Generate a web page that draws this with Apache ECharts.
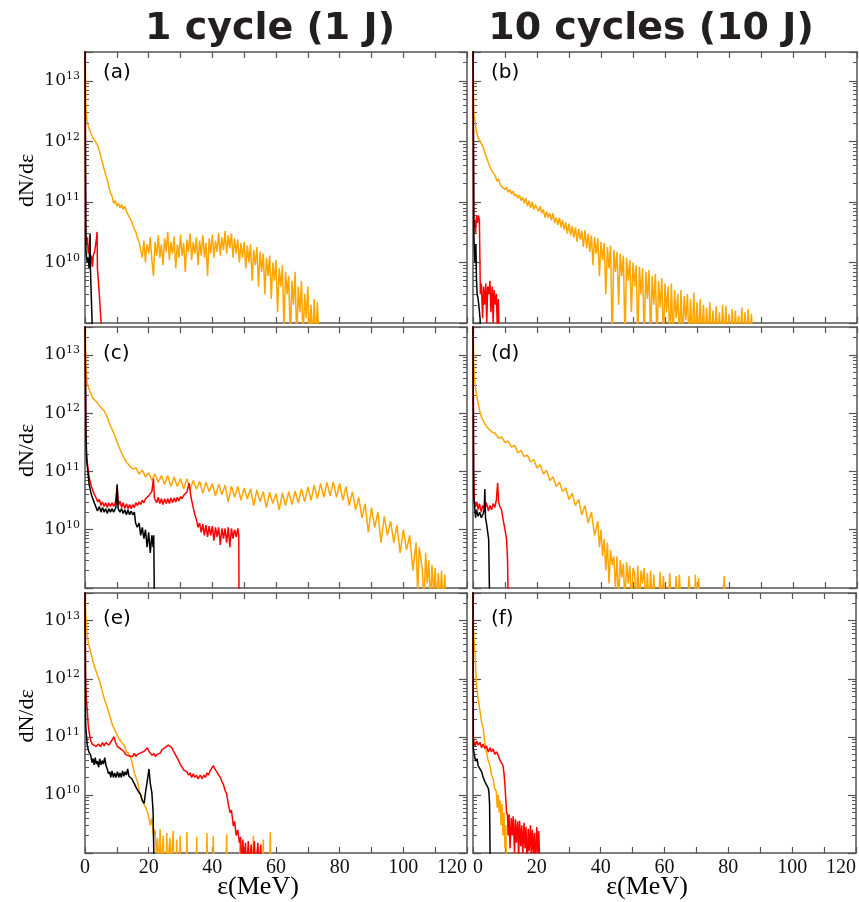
<!DOCTYPE html>
<html><head><meta charset="utf-8">
<script src="https://cdn.jsdelivr.net/npm/echarts@6/dist/echarts.min.js"></script>
<style>html,body{margin:0;padding:0;background:#fff}#c{width:859px;height:902px}</style>
</head><body><div id="c"></div>
<script>
// ---------- texts ----------
const columnTitles = ['1 cycle (1 J)', '10 cycles (10 J)'];
const panelLabels = ['(a)', '(b)', '(c)', '(d)', '(e)', '(f)'];
const yAxisName = 'dN/d\u03b5';
const xAxisName = '\u03b5(MeV)';
const xTickValues = [0, 20, 40, 60, 80, 100, 120];

// ---------- data: [energy MeV, dN/dE] ----------
const aOrange = [[0,5e13],[0.3,3.5e12],[0.6,2.2e12],[1,1.8e12],[1.5,1.5e12],[2,1.3e12],[2.5,1.15e12],[3,1.1e12],[3.5,9.5e11],[4,8.5e11],[4.5,7e11],[5,5.5e11],[5.5,4.4e11],[6,3.5e11],[6.5,2.8e11],[7,2.3e11],[7.5,1.8e11],[8,1.4e11],[8.5,1.25e11],[9,9.5e10],[9.5,1.05e11],[10,8.5e10],[10.5,9.5e10],[11,8e10],[11.5,9e10],[12,7.5e10],[12.5,8.5e10],[13,7e10],[13.5,7.5e10],[14,5.5e10],[14.5,5e10],[15,4.2e10],[15.5,3.6e10],[16,3.2e10],[16.5,2.5e10],[17,2.2e10],[17.5,1.6e10],
[18,1.2e10],[18.5,2.3e10],[19,1.0e10],[19.25,1.6e10],[19.5,2.0e10],[20,1.4e10],[20.5,2.6e10],[21,1.1e10],[21.5,6e9],[22,2.2e10],[22.5,1.3e10],[22.75,1.8e10],[23,2.8e10],[23.5,1.2e10],[24,2.0e10],[24.5,9e9],[25,2.5e10],[25.5,1.5e10],[26,3.2e10],[26.5,1.1e10],[27,2.2e10],[27.25,1.6e10],[27.5,1.4e10],[28,2.7e10],[28.5,8e9],[29,2.0e10],[29.5,1.2e10],[30,2.9e10],[30.5,1.3e10],[31,2.1e10],[31.5,7e9],[32,2.4e10],[32.25,1.9e10],[32.5,1.5e10],[33,3.0e10],[33.5,1.1e10],[34,2.2e10],[34.5,1.4e10],[35,2.6e10],[35.5,9e9],[36,2.3e10],[36.5,1.3e10],[37,2.8e10],[37.25,2e10],[37.5,1.2e10],[38,2.1e10],[38.5,6e9],[39,2.5e10],[39.5,1.4e10],[40,2.9e10],[40.5,1.2e10],[41,2.3e10],[41.5,1.5e10],[42,3.1e10],[42.5,1.3e10],[43,2.6e10],[43.5,1.6e10],[44,3.3e10],[44.5,1.4e10],[45,2.8e10],[45.5,1.7e10],[46,3.0e10],[46.5,1.2e10],[47,2.5e10],[47.5,1.4e10],[48,2.4e10],[48.5,1.0e10],[49,2.1e10],[49.5,1.2e10],[50,2.2e10],[50.5,8e9],[51,1.9e10],[51.5,1.0e10],[52,2.0e10],[52.5,5e9],[53,1.6e10],[53.5,9e9],[54,1.8e10],[54.5,4e9],[55,1.5e10],[55.5,7e9],[56,1.4e10],[56.5,3e9],[57,1.2e10],[57.5,6e9],[58,1.3e10],[58.5,2.5e9],[59,1.0e10],[59.5,5e9],[60,1.1e10],[60.5,1.5e9],[61,8e9],[61.5,4e9],[62,9e9],[62.5,8e8],[63,7e9],[63.5,3e9],[64,6e9],[64.5,5e8],[65,5e9],[65.5,2e9],[66,7e9],[66.5,5e8],[67,4e9],[67.5,1.5e9],[68,5e9],[68.5,5e8],[69,3e9],[69.5,1.2e9],[70,4e9],[70.5,5e8],[71,2e9],[71.5,5e8],[72,2.5e9],[72.5,5e8],[73,2.2e9],[73.5,5e8]];
const aRed = [[0,5e13],[0.2,3e10],[0.5,2e10],[0.8,2.6e10],[1,1.4e10],[1.3,1.9e10],[1.6,1.0e10],[2,1.3e10],[2.3,8.5e9],[2.6,1.3e10],[3,1.5e10],[3.3,1.9e10],[3.6,2.5e10],[3.8,3.2e10],[3.9,8e9],[4.5,3e9],[5,1.1e9],[5.3,7e8]];
const aBlack = [[0,5e13],[0.3,1.5e10],[0.7,1.0e10],[1.0,1.2e10],[1.3,8e9],[1.6,3e10],[1.7,8e9],[2.0,2.5e9],[2.3,8e8]];

const bOrange = [[0,5e13],[0.2,3e12],[0.6,2.3e12],[1.1,1.4e12],[1.6,1.15e12],[2.2,1e12],[2.7,9.5e11],[3.2,8e11],[3.7,6.5e11],[4.2,5.5e11],[4.7,4.6e11],[5.5,3.6e11],[6,3.2e11],[6.8,2.8e11],[7.5,2.2e11],[8,2.4e11],[8.5,1.9e11],[9,2e11],[10,1.6e11],[10.5,1.75e11],[11,1.45e11],[11.5,1.6e11],[12,1.35e11],[12.5,1.5e11],[13,1.25e11],[13.5,1.35e11],[14,1.15e11],[14.5,1.3e11],[15,1.05e11],[15.5,1.2e11],[16,9.5e10],[16.5,1.15e11],[17,8.5e10],[17.5,1.05e11],[18,8e10],[18.5,1e11],[19,7.5e10],[19.5,9e10],
[20,9e10],[20.5,7e10],[21,8.5e10],[21.5,6.5e10],[22,7.5e10],[22.5,5.5e10],[23,7e10],[23.5,5.5e10],[24,6.5e10],[24.5,5e10],[25,6.5e10],[25.5,4.5e10],[26,5.5e10],[26.5,4.2e10],[27,5.5e10],[27.5,3.8e10],[28,5e10],[28.5,3.5e10],[29,4.6e10],[29.5,3e10],[30,4.4e10],[30.5,2.8e10],[31,4e10],[31.5,2.6e10],[32,3.8e10],[32.5,2.2e10],[33,3.6e10],[33.5,2.4e10],[34,3.3e10],[34.5,1.8e10],[35,3.4e10],[35.5,1.7e10],[36,3e10],[36.5,1.5e10],[37,2.8e10],[37.5,9e9],[38,2.6e10],[38.5,1.4e10],[39,2.5e10],[39.5,6e9],[40,2.2e10],[40.5,1.1e10],[41,2.1e10],[41.5,3e9],[42,1.8e10],[42.5,8e9],[43,1.9e10],[43.5,5e8],[44,1.6e10],[44.5,7e9],[45,1.5e10],[45.5,2e9],[46,1.4e10],[46.5,6e9],[47,1.3e10],[47.5,5e8],[48,1.2e10],[48.5,5e9],[49,1.1e10],[49.5,1.5e9],[50,1.0e10],[50.5,4e9],[51,9e9],[51.5,5e8],[52,8.5e9],[52.5,3e9],[53,8e9],[53.5,5e8],[54,7e9],[54.5,2.5e9],[55,7.5e9],[55.5,5e8],[56,6e9],[56.5,2e9],[57,6.5e9],[57.5,5e8],[58,5e9],[58.5,1.8e9],[59,5.5e9],[59.5,5e8],[60,4.5e9],[60.5,1.5e9],[61,4e9],[61.5,5e8],[62,4.5e9],[62.5,5e8],[63,3.5e9],[63.5,1.2e9],[64,3e9],[64.5,5e8],[65,3.5e9],[65.5,5e8],[66,2.8e9],[66.5,1.1e9],[67,3e9],[67.5,5e8],[68,2.5e9],[68.5,5e8],[69,3.2e9],[69.5,5e8],[70,2.2e9],[70.5,5e8],[71,2.5e9],[71.5,5e8],[72,2e9],[72.5,5e8],[73,1.8e9],[73.5,5e8],[74,2.2e9],[74.5,5e8],[75,1.6e9],[75.5,5e8],[76,1.9e9],[76.5,5e8],[77,1.5e9],[77.5,5e8],[78,2e9],[78.5,5e8],[79,1.9e9],[79.5,5e8],[80,1.4e9],[80.5,5e8],[81,1.7e9],[81.5,5e8],[82,1.6e9],[82.5,5e8],[83,1.3e9],[83.5,5e8],[84,1.8e9],[84.5,5e8],[85,1.5e9],[85.5,5e8],[86,1.7e9],[86.5,5e8],[87,1.4e9],[87.5,5e8]];
const bRed = [[0,5e13],[0.2,4e10],[0.5,5e10],[0.8,3e10],[1.1,6e10],[1.4,4.5e10],[1.7,6e10],[2.0,5e10],[2.3,3e9],[2.6,4.5e9],[3,1.2e9],[3.3,4e9],[3.6,2e9],[4,4.5e9],[4.3,1e9],[4.6,4e9],[5,3e9],[5.3,5e9],[5.6,1.5e9],[6,4e9],[6.3,1e9],[6.6,3.5e9],[7,2e9],[7.3,3e9],[7.6,8e8],[7.9,2.5e9],[8.2,6e8]];
const bBlack = [[0,5e13],[0.3,2.5e10],[0.6,1e10],[0.9,2e10],[1.1,5e9],[1.3,3e9],[1.6,2.5e9],[1.9,1.8e9],[2.2,1.2e9],[2.4,7e8]];

const cOrange = [[0,5e13],[0.3,6e12],[0.7,3.2e12],[1.5,2.4e12],[2.5,1.8e12],[3.9,1.5e12],[5,1.25e12],[6,1.1e12],[7,8.5e11],[8,6e11],[9,4.6e11],[10,3.3e11],[11,2.4e11],[12,1.8e11],[13,1.45e11],[14,1.25e11],[15,1.1e11],
[16,1.15e11],[17,9e10],[18,1.05e11],[19,8e10],[20,9.5e10],[21,7e10],[22,9e10],[23,6.5e10],[24,8.5e10],[25,6e10],[26,8.5e10],[27,5.5e10],[28,8e10],[29,5.5e10],[30,7.5e10],[31,5e10],[32,7.5e10],[33,4.8e10],[34,7e10],[35,5e10],[36,6.8e10],[37,4.2e10],[38,6.5e10],[39,4.5e10],[40,6.2e10],[41,3.8e10],[42,6e10],[43,4e10],[44,5.8e10],[45,3e10],[46,5.6e10],[47,3.6e10],[48,5.5e10],[49,3.2e10],[50,5.2e10],[51,3.4e10],[52,5e10],[53,2.6e10],[54,4.8e10],[55,3e10],[56,4.5e10],[57,2.4e10],[58,4.4e10],[59,2.8e10],[60,4.2e10],[61,2.2e10],[62,4.3e10],[63,2.6e10],[64,4.5e10],[65,2.7e10],[66,4.6e10],[67,2.9e10],[68,5e10],[69,3e10],[70,5.4e10],[71,3.2e10],[72,5.8e10],[73,3.4e10],[74,6.2e10],[75,3.6e10],[76,6.5e10],[77,3.8e10],[78,6.6e10],[79,3.6e10],[80,6.2e10],[81,3.2e10],[82,5.5e10],[83,2.6e10],[84,4.5e10],[85,2.2e10],[86,3.6e10],[87,1.6e10],[88,2.8e10],[89,9e9],[90,2.4e10],[91,1.1e10],[92,2e10],[93,6e9],[94,1.7e10],[95,8e9],[96,1.4e10],[97,6e9],[98,1.2e10],[99,4e9],[100,1e10],[101,4.5e9],[102,8e9],[103,2e9],[104,6e9],[104.5,8e8],[105,5e9],[106,2e9],[106.5,5e8],[107,4e9],[107.5,1.2e9],[108,3e9],[108.5,5e8],[109,2.5e9],[109.5,8e8],[110,2.2e9],[110.5,5e8],[111,1.8e9],[111.5,5e8],[112,2e9],[112.5,5e8],[113,1.7e9],[113.5,5e8]];
const cRed = [[0,5e13],[0.3,5e11],[0.5,2e11],[0.8,1.3e11],[1.3,8e10],[2,5.5e10],[2.8,4.2e10],[3.5,3.5e10],[4,3.0e10],[4.5,3.3e10],[5,2.6e10],[5.5,3e10],[6,2.5e10],[6.5,2.9e10],[7,2.4e10],[7.5,2.9e10],[8,2.5e10],[8.5,2.9e10],[9,2.5e10],[9.6,3e10],[10.1,5.5e10],[10.5,2.6e10],[11,3.1e10],[11.5,2.4e10],[12,2.9e10],[12.5,2.3e10],[13,2.8e10],[13.5,2.3e10],[14,2.7e10],[14.5,2.3e10],[15,2.7e10],[15.5,2.4e10],[16,2.9e10],[16.5,2.6e10],[17,3e10],[17.5,2.7e10],[18,3.2e10],[18.5,2.9e10],[19,3.4e10],[19.5,3.3e10],[20,3.8e10],[20.5,3.7e10],[21,4.5e10],[21.5,7.5e10],[21.8,3.5e10],[22.5,2.9e10],[23,3.6e10],[23.5,2.8e10],[24,3.4e10],[24.5,2.7e10],[25,3.4e10],[25.5,2.8e10],[26,3.4e10],[26.5,2.8e10],[27,3.5e10],[27.5,2.9e10],[28,3.5e10],[28.5,3e10],[29,3.6e10],[29.5,3.1e10],[30,3.7e10],[30.5,3.4e10],[31,3.9e10],[31.5,3.8e10],[32,4.4e10],[32.7,6.3e10],[33.3,3.6e10],[34,2.4e10],[34.5,1.8e10],[35,1.5e10],[35.5,1.1e10],[36,1.3e10],[36.5,9e9],[37,1.25e10],[37.5,8e9],[38,1.2e10],[38.5,7.5e9],[39,1.15e10],[39.5,8e9],[40,1.15e10],[40.5,6.5e9],[41,1.1e10],[41.5,7.5e9],[42,1.1e10],[42.5,5.5e9],[43,1.05e10],[43.5,7e9],[44,1.05e10],[44.5,6e9],[45,1.1e10],[45.5,5e9],[46,1.05e10],[46.5,7e9],[47,1e10],[47.5,7.5e9],[48,1.05e10],[48.3,8e9],[48.4,5e8]];
const cBlack = [[0,5e13],[0.3,4e11],[0.5,1.6e11],[0.9,1e11],[1.3,6e10],[2,4e10],[2.8,3e10],[3.5,2.4e10],[3.9,2.1e10],[4.5,2.5e10],[5,2e10],[5.5,2.4e10],[6,2e10],[6.5,2.3e10],[7,1.9e10],[7.5,2.3e10],[8,2e10],[8.5,2.3e10],[9,2e10],[9.7,2.4e10],[10.1,6e10],[10.4,2.3e10],[11,2e10],[11.5,2.3e10],[12,1.9e10],[12.5,2.2e10],[13,1.8e10],[13.5,2.2e10],[14,1.8e10],[14.5,2.1e10],[15,1.8e10],[15.5,2e10],[15.9,1.3e10],[16.4,1.1e10],[17,1.3e10],[17.5,8e9],[18,1.1e10],[18.5,7e9],[19,1.0e10],[19.5,5e9],[20,9e9],[20.5,4e9],[21,8e9],[21.4,5e9],[21.6,8e9],[21.8,5e8]];

const dOrange = [[0,5e13],[0.2,8e12],[0.5,3.7e12],[1,2.2e12],[1.6,1.5e12],[2.1,1.1e12],[2.6,8.7e11],[3.4,7e11],[4.2,5.9e11],[5,5.3e11],[6,4.7e11],[6.8,4.6e11],[7,4.3e11],[8,3.7e11],[9,3.9e11],[10,3.1e11],[11,3.3e11],[12,2.6e11],[13,2.8e11],[14,2.1e11],[15,2.3e11],[16,1.8e11],[17,1.9e11],[18,1.45e11],[19,1.6e11],[20,1.15e11],[21,1.3e11],[22,9e10],[23,1.05e11],[24,7e10],[25,8e10],[26,5.5e10],[27,6.5e10],[28,4.5e10],[29,5.2e10],[30,3.3e10],[31,4.2e10],[32,2.6e10],[33,3.3e10],[34,1.8e10],[35,2.6e10],[36,1.3e10],[37,2e10],[38,8e9],[39,1.4e10],[39.5,5e9],[40,1e10],[40.5,3.5e9],[41,7e9],[41.5,2e9],[42,6e9],[42.5,1.2e9],[43,4.5e9],[43.5,2.5e9],[44,3.5e9],[44.5,1e9],[45,3.5e9],[45.5,5e8],[46,3e9],[46.5,1.5e9],[47,2.6e9],[47.5,5e8],[48,2.8e9],[48.5,1.2e9],[49,2.4e9],[49.5,5e8],[50,2.2e9],[50.5,1.8e9],[51,5e8],[51.5,2.4e9],[52,5e8],[52.5,2e9],[53,1.2e9],[53.5,2.2e9],[54,5e8],[54.5,1.8e9],[55,5e8],[55.5,2e9],[56,5e8],[56.5,1.7e9],[57,5e8],[58,5e8],[58.5,1.9e9],[59,5e8],[59.5,1.6e9],[60,5e8],[61,5e8],[61.5,1.8e9],[62,5e8],[63,5e8],[63.5,1.6e9],[64,5e8],[64.5,1.7e9],[65,5e8],[67,5e8],[67.5,1.6e9],[68,5e8],[69.2,5e8],[69.5,1.7e9],[69.8,5e8],[70.3,5e8],[70.5,1.5e9],[71,5e8],[78,5e8],[78.5,1.6e9],[79,5e8]];
const dRed = [[0,5e13],[0.2,1e11],[0.4,3.2e10],[0.8,2.5e10],[1.2,3e10],[1.6,2.2e10],[2,2.8e10],[2.6,2e10],[3,2.6e10],[3.7,2.2e10],[4.2,2.9e10],[4.8,2.1e10],[5.3,2.6e10],[5.8,2.2e10],[6.3,2.8e10],[6.8,2.4e10],[7.3,3.2e10],[7.7,6.3e10],[8,3e10],[8.4,2.5e10],[8.9,2.2e10],[9.4,1.5e10],[10,1.0e10],[10.5,6.8e9],[10.8,3e9],[11,5e8]];
const dBlack = [[0,5e13],[0.2,4e10],[0.5,2.5e10],[0.8,1.6e10],[1.1,2.2e10],[1.6,1.7e10],[2.1,2e10],[2.6,1.6e10],[3.2,1.9e10],[3.5,2.2e10],[3.7,5e10],[3.9,1.6e10],[4.2,1.3e10],[4.6,9e9],[4.9,6.8e9],[5.2,5e8]];

const eOrange = [[0,5e13],[0.2,1.4e13],[0.7,5.5e12],[1.2,3.8e12],[1.8,2.9e12],[2.5,2.0e12],[3.2,1.5e12],[3.9,1.15e12],[4.6,9e11],[5.3,6.5e11],[6,4.6e11],[6.7,3.6e11],[7.4,2.7e11],[8.1,2.0e11],[8.6,1.6e11],[9.2,1.5e11],[9.7,1.2e11],[10.2,1.05e11],[10.8,9e10],[11.5,8e10],[12.3,7.2e10],[13,5.5e10],[13.7,5.2e10],[14.4,4.3e10],[15,3.2e10],[15.4,2.5e10],[16,2.0e10],[16.5,1.7e10],[17,1.2e10],[17.5,1e10],[18,8e9],[18.6,6.8e9],[19.1,6e9],[19.6,5.1e9],[20.1,4e9],[20.5,3e9],[21,4e9],[21.5,2e9],[22,2.5e9],[22.4,1e9],[22.8,1.8e9],[23.2,5e8],[23.5,5e8],[23.6,2.6e9],[23.8,5e8],[24.4,5e8],[24.6,2e9],[24.8,5e8],[25.5,5e8],[25.7,2.2e9],[25.9,5e8],[26.5,5e8],[26.7,1.8e9],[26.9,5e8],[27.5,5e8],[27.7,2.4e9],[27.9,5e8],[28.6,5e8],[28.8,1.7e9],[29,5e8],[29.7,5e8],[29.9,2e9],[30.1,5e8],[31.8,5e8],[32,2.3e9],[32.2,5e8],[34.9,5e8],[35.1,1.9e9],[35.3,5e8],[38.1,5e8],[38.3,2.2e9],[38.5,5e8],[40.1,5e8],[40.3,2e9],[40.5,5e8],[44.3,5e8],[44.5,2.1e9],[44.7,5e8],[48.5,5e8],[48.7,1.8e9],[48.9,5e8],[52.7,5e8],[52.9,2e9],[53.1,5e8],[55.8,5e8],[56,1.7e9],[56.2,5e8],[58,5e8],[58.2,2.3e9],[58.4,5e8]];
const eRed = [[0,5e13],[0.2,9e11],[0.5,4e11],[0.7,3e11],[1,1.6e11],[1.3,1.2e11],[1.8,8.5e10],[2.3,7.5e10],[2.8,8e10],[3.5,6.8e10],[4.2,7.5e10],[4.9,6.8e10],[5.5,8e10],[6,7e10],[6.5,8e10],[7,8.5e10],[7.5,7.2e10],[8,8e10],[8.5,7.5e10],[9.1,1.0e11],[9.6,8e10],[10.2,6.8e10],[10.7,6.5e10],[11.2,6.2e10],[11.7,5.8e10],[12.2,5.6e10],[12.7,5e10],[13.2,5.3e10],[13.8,4.7e10],[14.4,5e10],[15,4.6e10],[15.5,5.2e10],[16,4.6e10],[16.5,5e10],[17,4.8e10],[17.5,5.3e10],[18,5.2e10],[18.5,5.6e10],[19,5.8e10],[19.6,6.5e10],[20.1,5.6e10],[20.6,5.4e10],[21.1,4.8e10],[21.6,5.2e10],[22.1,4.6e10],[22.7,5e10],[23.2,5.4e10],[23.7,5.3e10],[24.2,6e10],[24.7,5.8e10],[25.2,6.6e10],[25.7,6.5e10],[26.2,7.2e10],[26.7,6.8e10],[27.2,6.6e10],[27.7,5.8e10],[28.2,5.4e10],[28.7,4.6e10],[29.3,4e10],[29.9,3.4e10],[30.5,3e10],[31,2.7e10],[31.5,2.5e10],[32,2.5e10],[32.5,2.2e10],[33,2.4e10],[33.5,2e10],[34,2.3e10],[34.5,2e10],[35,2.2e10],[35.5,1.9e10],[36.2,2.2e10],[36.8,1.9e10],[37.3,2.2e10],[37.8,2e10],[38.3,2.4e10],[38.8,2.2e10],[39.3,2.6e10],[39.8,2.7e10],[40.3,3.2e10],[40.8,2.8e10],[41.3,2.6e10],[41.8,2.3e10],[42.5,2e10],[43,1.7e10],[43.5,1.5e10],[44,1.2e10],[44.5,1.05e10],[45,7e9],[45.6,4.9e9],[46,5.5e9],[46.6,2.9e9],[47,3.5e9],[47.5,2e9],[48,2.5e9],[48.5,1.5e9],[48.9,1.9e9],[49.2,5e8],[49.6,1.7e9],[50,5e8],[50.4,1.5e9],[50.8,5e8],[51.3,1.6e9],[51.7,5e8],[52.2,1.4e9],[52.6,5e8],[53.2,1.6e9],[53.6,5e8],[54.3,1.5e9],[54.7,5e8],[55.2,1.4e9],[55.5,5e8]];
const eBlack = [[0,5e13],[0.2,1.6e11],[0.5,1e11],[0.7,7.2e10],[1.2,5.5e10],[1.8,4.8e10],[2.2,3.6e10],[2.5,4.2e10],[2.9,3.3e10],[3.2,4.4e10],[3.6,3.4e10],[3.9,3.8e10],[4.3,3e10],[4.6,4.2e10],[5,3.3e10],[5.4,3.9e10],[5.8,3.4e10],[6.2,4.4e10],[6.6,3.2e10],[7,2.8e10],[7.4,2.3e10],[7.8,2.5e10],[8.1,2e10],[8.5,2.6e10],[8.9,2e10],[9.3,2.4e10],[9.7,2e10],[10.2,2.5e10],[10.6,2e10],[11,2.4e10],[11.4,2e10],[11.8,2.6e10],[12.2,2.1e10],[12.6,2.5e10],[13,2.2e10],[13.4,2.8e10],[13.8,2.1e10],[14.2,2.2e10],[14.7,1.9e10],[15.1,2e10],[15.4,1.6e10],[15.8,1.5e10],[16.2,1.3e10],[16.6,1.25e10],[17,1.1e10],[17.5,1e10],[18,8e9],[18.6,7.2e9],[19,1.1e10],[19.6,1.8e10],[20.1,2.8e10],[20.5,1.6e10],[21,1.1e10],[21.4,5e9],[21.7,5e8]];

const fOrange = [[0,5e13],[0.1,8e12],[0.6,2.9e12],[1.1,7.8e11],[1.6,4.5e11],[2.1,3e11],[2.6,1.9e11],[3.2,1.4e11],[3.7,8e10],[4.2,5.5e10],[4.7,4e10],[5.3,3.2e10],[5.8,2.2e10],[6.3,1.9e10],[6.8,1.3e10],[7.3,1.15e10],[7.6,6e9],[7.9,1e10],[8.2,5e9],[8.5,8e9],[8.8,3e9],[9.1,7e9],[9.4,2e9],[9.7,5e9],[10,1.2e9],[10.3,3e9],[10.5,5e8]];
const fRed = [[0,5e13],[0.1,1e11],[0.3,8e10],[0.7,7e10],[1.2,8.5e10],[1.6,7.2e10],[2.2,8e10],[2.7,6.5e10],[3.2,7.5e10],[3.7,6.3e10],[4.2,7e10],[4.8,5.5e10],[5.3,6.5e10],[5.8,5.5e10],[6.3,6.2e10],[6.8,5e10],[7.4,5.5e10],[7.9,4.8e10],[8.4,4e10],[8.9,3.8e10],[9.4,3.2e10],[9.7,2.4e10],[10,1.5e10],[10.3,8e9],[10.5,5.1e9],[10.8,4.5e9],[11,2e9],[11.3,4.6e9],[11.6,1.2e9],[12,4e9],[12.3,2e9],[12.6,4.3e9],[13,1e9],[13.3,3.8e9],[13.6,1.5e9],[14,3.5e9],[14.3,8e8],[14.6,3.6e9],[15,1.3e9],[15.3,3e9],[15.6,1e9],[16,3.3e9],[16.3,1.2e9],[16.6,2.8e9],[17,6e8],[17.3,2.6e9],[17.6,1.1e9],[18,3e9],[18.3,7e8],[18.6,2.5e9],[19,1e9],[19.3,2.2e9],[19.6,6e8],[20,2.8e9],[20.3,1e9],[20.6,2.4e9],[21,5e8]];
const fBlack = [[0,5e13],[0.1,6.3e10],[0.4,5e10],[0.6,4.3e10],[1,3.8e10],[1.3,4.2e10],[1.6,3.2e10],[2.1,3e10],[2.7,2.5e10],[3.2,2e10],[3.7,1.7e10],[4.2,1.5e10],[4.8,1.3e10],[5,1.1e10],[5.2,6.8e9],[5.4,5e8]];

const panelData = [
  [aOrange, aRed, aBlack], [bOrange, bRed, bBlack],
  [cOrange, cRed, cBlack], [dOrange, dRed, dBlack],
  [eOrange, eRed, eBlack], [fOrange, fRed, fBlack]
];
const seriesColors = ['#FFA500', '#FF0000', '#000000'];

// ---------- layout ----------
const colLeft = [85, 473], colWidth = [382, 384];
const rowTop = [52, 327, 593], rowHeight = [271, 261, 260];

const chart = echarts.init(document.getElementById('c'), null, {renderer: 'canvas'});
const grids = [], xAxes = [], yAxes = [], series = [], graphics = [];
const axisColor = '#555';

function yLabel(v) {
  const lg = Math.log10(v);
  const e = Math.round(lg);
  if (Math.abs(lg - e) > 1e-6 || e < 10) return '';
  return '{b|10}{s|' + e + '}';
}

for (let i = 0; i < 6; i++) {
  const row = Math.floor(i / 2), col = i % 2;
  grids.push({left: colLeft[col], top: rowTop[row], width: colWidth[col], height: rowHeight[row], containLabel: false});
  const baseX = {
    type: 'value', gridIndex: i, min: 0, max: 120, interval: 20,
    axisLine: {show: true, onZero: false, lineStyle: {color: axisColor, width: 1.5}},
    axisTick: {show: true, inside: true, length: 6, lineStyle: {color: axisColor, width: 1.2}},
    minorTick: {show: true, splitNumber: 2, length: 6, lineStyle: {color: axisColor, width: 1.2}},
    splitLine: {show: false}
  };
  xAxes.push(Object.assign({}, baseX, {
    position: 'bottom',
    axisLabel: {show: row === 2, margin: 5, fontFamily: 'Liberation Serif', fontSize: 20, color: '#111',
      customValues: xTickValues,
      alignMinLabel: col === 1 ? 'left' : 'center', alignMaxLabel: 'right'}
  }));
  xAxes.push(Object.assign({}, baseX, {position: 'top', axisLabel: {show: false}}));
  const baseY = {
    type: 'log', logBase: 10, gridIndex: i, min: 1e9, max: 3e13,
    axisLine: {show: true, onZero: false, lineStyle: {color: axisColor, width: 1.5}},
    axisTick: {show: true, inside: true, length: 8, lineStyle: {color: axisColor, width: 1.2}},
    minorTick: {show: true, splitNumber: 9, length: 4, lineStyle: {color: axisColor, width: 1}},
    splitLine: {show: false}
  };
  yAxes.push(Object.assign({}, baseY, {
    position: 'left',
    axisLabel: {show: col === 0, margin: 5, formatter: yLabel,
      rich: {b: {fontFamily: 'DejaVu Serif', fontSize: 17, color: '#111'},
             s: {fontFamily: 'DejaVu Serif', fontSize: 11, color: '#111', padding: [0, 0, 9, 0]}}}
  }));
  yAxes.push(Object.assign({}, baseY, {position: 'right', axisLabel: {show: false}}));

  panelData[i].forEach((d, k) => {
    series.push({
      type: 'line', xAxisIndex: 2 * i, yAxisIndex: 2 * i, data: d,
      showSymbol: false, symbol: 'none', clip: true, animation: false,
      lineStyle: {color: seriesColors[k], width: 1.5}, itemStyle: {color: seriesColors[k]}
    });
  });

  graphics.push({type: 'text', x: colLeft[col] + 18, y: row === 0 ? 73 : (row === 1 ? 354 : 619),
    style: {text: panelLabels[i], font: '20px "DejaVu Sans"', fill: '#000', align: 'left', verticalAlign: 'middle'}});
}

[0, 1, 2].forEach(row => {
  graphics.push({type: 'text', x: 27, y: rowTop[row] + rowHeight[row] / 2 - 7, rotation: Math.PI / 2,
    style: {text: yAxisName, font: '22px "Liberation Serif"', fill: '#000', align: 'center', verticalAlign: 'middle'}});
});
[0, 1].forEach(col => {
  graphics.push({type: 'text', x: colLeft[col] + colWidth[col] / 2 - 18, y: 887,
    style: {text: xAxisName, font: '26px "Liberation Serif"', fill: '#000', align: 'center', verticalAlign: 'middle'}});
  graphics.push({type: 'text', x: col === 0 ? 270 : 651, y: 29,
    style: {text: columnTitles[col], font: 'bold 38px "DejaVu Sans"', fill: '#231f20', align: 'center', verticalAlign: 'middle'}});
});

chart.setOption({
  animation: false,
  backgroundColor: '#fff',
  grid: grids, xAxis: xAxes, yAxis: yAxes, series: series, graphic: graphics
});
</script></body></html>
